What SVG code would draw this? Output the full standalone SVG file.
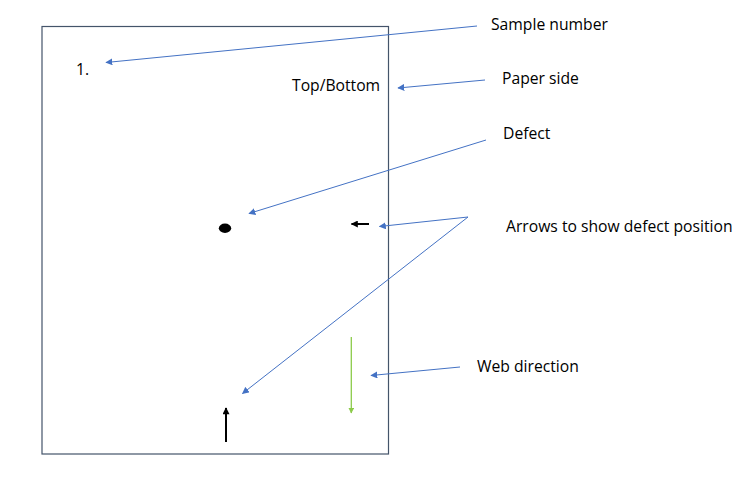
<svg xmlns="http://www.w3.org/2000/svg" width="752" height="497" viewBox="0 0 752 497">
<style>
.lbl{font-family:"Open Sans","Noto Sans","Liberation Sans",sans-serif;font-size:15.7px;fill:#000}
.conn{stroke:#4472C4;stroke-width:1;fill:none;marker-end:url(#bh)}
</style>
<defs>
<marker id="bh" viewBox="0 0 10 10" refX="9" refY="5" markerWidth="7" markerHeight="7" markerUnits="userSpaceOnUse" orient="auto"><path d="M0,0 L10,5 L0,10 z" fill="#4472C4"/></marker>
<marker id="kh" viewBox="0 0 10 10" refX="9" refY="5" markerWidth="8" markerHeight="7" markerUnits="userSpaceOnUse" orient="auto"><path d="M0,0 L10,5 L0,10 z" fill="#000"/></marker>
<marker id="gh" viewBox="0 0 10 10" refX="9" refY="5" markerWidth="6" markerHeight="6" markerUnits="userSpaceOnUse" orient="auto"><path d="M0,0 L10,5 L0,10 z" fill="#8CCB4A"/></marker>
</defs>
<rect width="752" height="497" fill="#fff"/>
<g id="sheet">
<rect x="42" y="26.5" width="346.5" height="427.5" fill="none" stroke="#44546A" stroke-width="1.2"/>
<text class="lbl" x="76" y="75">1.</text>
<text class="lbl" x="292" y="91">Top/Bottom</text>
<ellipse cx="225" cy="228.3" rx="6.2" ry="4.7" fill="#000"/>
<line x1="369" y1="224" x2="351.5" y2="224" stroke="#000" stroke-width="2" marker-end="url(#kh)"/>
<line x1="226" y1="442" x2="226" y2="408" stroke="#000" stroke-width="2" marker-end="url(#kh)"/>
<line x1="351.3" y1="337" x2="351.3" y2="413" stroke="#8CCB4A" stroke-width="1.3" marker-end="url(#gh)"/>
</g>
<g id="label-sample"><text class="lbl" x="491" y="30">Sample number</text></g>
<g id="label-paper"><text class="lbl" x="502" y="84">Paper side</text></g>
<g id="label-defect"><text class="lbl" x="503" y="139">Defect</text></g>
<g id="label-arrows"><text class="lbl" x="506" y="232">Arrows to show defect position</text></g>
<g id="label-web"><text class="lbl" x="477" y="372">Web direction</text></g>
<g id="connectors">
<line class="conn" x1="477" y1="26" x2="106" y2="62.5"/>
<line class="conn" x1="485" y1="80" x2="398" y2="88"/>
<line class="conn" x1="486" y1="140" x2="249" y2="213.5"/>
<line class="conn" x1="468" y1="217" x2="379.5" y2="226.5"/>
<line class="conn" x1="468" y1="217" x2="242.5" y2="393.5"/>
<line class="conn" x1="460" y1="367" x2="371" y2="375.5"/>
</g>
</svg>
